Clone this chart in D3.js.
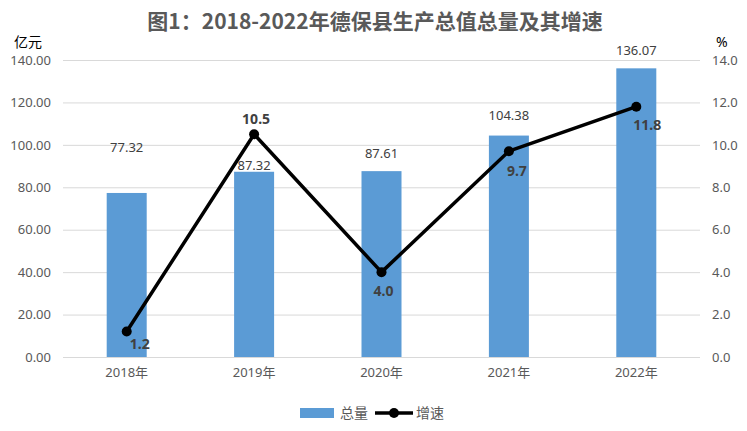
<!DOCTYPE html>
<html>
<head>
<meta charset="utf-8">
<script src="https://cdn.jsdelivr.net/npm/d3@7"></script>
<style>
  body { margin: 0; background: #fff; }
  svg text { font-family: "Noto Sans", "Noto Sans CJK SC", sans-serif; }
</style>
</head>
<body>
<div id="chart"></div>
<script>
// data
var years = ["2018年", "2019年", "2020年", "2021年", "2022年"];
var totals = [77.32, 87.32, 87.61, 104.38, 136.07];
var growth = [1.2, 10.5, 4.0, 9.7, 11.8];
var leftTicks = [0, 20, 40, 60, 80, 100, 120, 140];
var rightTicks = [0, 2, 4, 6, 8, 10, 12, 14];

var w = 747, h = 431;
var plotLeft = 63, plotRight = 700, plotTop = 60, plotBottom = 357;

var svg = d3.select("#chart").append("svg")
    .attr("width", w)
    .attr("height", h);

var x = d3.scaleBand().domain(years).range([plotLeft, plotRight]);
var yL = d3.scaleLinear().domain([0, 140]).range([plotBottom, plotTop]);
var yR = d3.scaleLinear().domain([0, 14]).range([plotBottom, plotTop]);

function cx(i) { return x(years[i]) + x.bandwidth() / 2; }

// title
svg.append("text")
    .attr("x", 375)
    .attr("y", 29)
    .attr("text-anchor", "middle")
    .attr("font-size", "21px")
    .attr("font-weight", "bold")
    .attr("fill", "#595959")
    .style("font-family", "'Noto Sans CJK SC', sans-serif")
    .text("图1：2018-2022年德保县生产总值总量及其增速");

// grid
svg.append("g").selectAll("line")
    .data(leftTicks)
    .enter()
    .append("line")
    .attr("x1", plotLeft)
    .attr("x2", plotRight)
    .attr("y1", function(d) { return yL(d) + 0.5; })
    .attr("y2", function(d) { return yL(d) + 0.5; })
    .attr("stroke", "#d9d9d9")
    .attr("stroke-width", 1);

// left axis
var axL = svg.append("g")
    .attr("transform", "translate(" + (plotLeft - 9) + ",0)")
    .call(d3.axisLeft(yL).tickValues(leftTicks).tickSize(0).tickFormat(d3.format(".2f")));
axL.select(".domain").remove();
axL.selectAll("text")
    .attr("font-size", "13px")
    .attr("fill", "#595959")
    .style("font-family", "'Noto Sans', sans-serif");

// right axis
var axR = svg.append("g")
    .attr("transform", "translate(" + (plotRight + 9) + ",0)")
    .call(d3.axisRight(yR).tickValues(rightTicks).tickSize(0).tickFormat(d3.format(".1f")));
axR.select(".domain").remove();
axR.selectAll("text")
    .attr("font-size", "13px")
    .attr("fill", "#595959")
    .style("font-family", "'Noto Sans', sans-serif");

// x axis labels
var axX = svg.append("g")
    .attr("transform", "translate(0," + (plotBottom + 8) + ")")
    .call(d3.axisBottom(x).tickSize(0));
axX.select(".domain").remove();
axX.selectAll("text")
    .attr("font-size", "13px")
    .attr("fill", "#595959");

// unit labels
svg.append("text").attr("x", 14).attr("y", 47)
    .attr("font-size", "14px").attr("fill", "#000")
    .style("font-family", "'Noto Sans CJK SC', sans-serif")
    .text("亿元");
svg.append("text").attr("x", 716).attr("y", 47)
    .attr("font-size", "14px").attr("fill", "#000")
    .text("%");

// bars
var barW = 40;
svg.selectAll("rect.bar")
    .data(totals)
    .enter()
    .append("rect")
    .attr("class", "bar")
    .attr("x", function(d, i) { return cx(i) - barW / 2; })
    .attr("y", function(d) { return yL(d); })
    .attr("width", barW)
    .attr("height", function(d) { return plotBottom - yL(d); })
    .attr("fill", "#5b9bd5");

// bar labels (nudged like the original)
var barLabelDy = [-41, -2, -13, -16, -13];
svg.selectAll("text.barlab")
    .data(totals)
    .enter()
    .append("text")
    .attr("class", "barlab")
    .attr("x", function(d, i) { return cx(i); })
    .attr("y", function(d, i) { return yL(d) + barLabelDy[i]; })
    .attr("text-anchor", "middle")
    .attr("font-size", "13px")
    .attr("fill", "#404040")
    .text(function(d) { return d.toFixed(2); });

// growth line
var line = d3.line()
    .x(function(d, i) { return cx(i); })
    .y(function(d) { return yR(d); });

svg.append("path")
    .datum(growth)
    .attr("d", line)
    .attr("fill", "none")
    .attr("stroke", "#000")
    .attr("stroke-width", 3.5)
    .attr("stroke-linejoin", "round");

svg.selectAll("circle.pt")
    .data(growth)
    .enter()
    .append("circle")
    .attr("class", "pt")
    .attr("cx", function(d, i) { return cx(i); })
    .attr("cy", function(d) { return yR(d); })
    .attr("r", 5)
    .attr("fill", "#000");

var lineLabelDx = [13, 2, 2, 8, 11];
var lineLabelDy = [17, -10, 24, 25, 23];
svg.selectAll("text.linelab")
    .data(growth)
    .enter()
    .append("text")
    .attr("class", "linelab")
    .attr("x", function(d, i) { return cx(i) + lineLabelDx[i]; })
    .attr("y", function(d, i) { return yR(d) + lineLabelDy[i]; })
    .attr("text-anchor", "middle")
    .attr("font-size", "14px")
    .attr("font-weight", "bold")
    .attr("fill", "#404040")
    .text(function(d) { return d.toFixed(1); });

// legend
var lg = svg.append("g");
lg.append("rect").attr("x", 300).attr("y", 408).attr("width", 34).attr("height", 10).attr("fill", "#5b9bd5");
lg.append("text").attr("x", 340).attr("y", 418).attr("font-size", "14px").attr("fill", "#595959")
    .style("font-family", "'Noto Sans CJK SC', sans-serif").text("总量");
lg.append("line").attr("x1", 375).attr("x2", 413).attr("y1", 413).attr("y2", 413)
    .attr("stroke", "#000").attr("stroke-width", 3.5);
lg.append("circle").attr("cx", 394).attr("cy", 413).attr("r", 5).attr("fill", "#000");
lg.append("text").attr("x", 416).attr("y", 418).attr("font-size", "14px").attr("fill", "#595959")
    .style("font-family", "'Noto Sans CJK SC', sans-serif").text("增速");
</script>
</body>
</html>
